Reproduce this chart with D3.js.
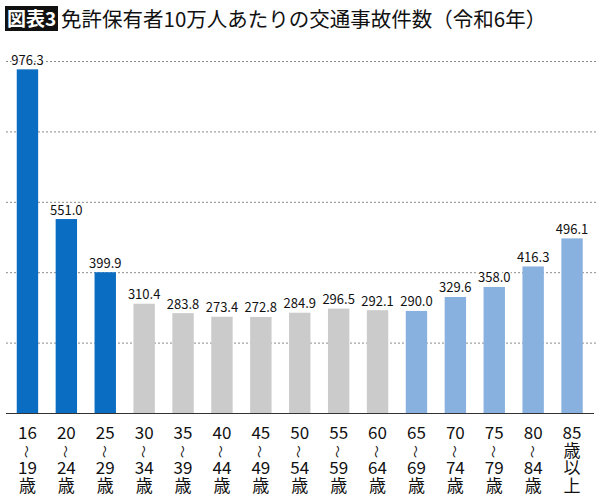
<!DOCTYPE html>
<html>
<head>
<meta charset="utf-8">
<script src="https://cdn.jsdelivr.net/npm/d3@7"></script>
<style>
  body { margin: 0; background: #fff; }
  svg { display: block; font-family: "Noto Sans CJK JP", "Noto Sans", sans-serif; }
</style>
</head>
<body>
<div id="chart"></div>
<script>
const ageFrom = ["16", "20", "25", "30", "35", "40", "45", "50", "55", "60", "65", "70", "75", "80", "85"];
const ageTo = ["19", "24", "29", "34", "39", "44", "49", "54", "59", "64", "69", "74", "79", "84", ""];
const accidents = [976.3, 551.0, 399.9, 310.4, 283.8, 273.4, 272.8, 284.9, 296.5, 292.1, 290.0, 329.6, 358.0, 416.3, 496.1];
const groups = ["young", "young", "young", "mid", "mid", "mid", "mid", "mid", "mid", "mid", "old", "old", "old", "old", "old"];
const yTicks = [200, 400, 600, 800, 1000];

const width = 600, height = 501;
const margin = { top: 61, right: 8.5, bottom: 88, left: 8 };

const svg = d3.select("#chart").append("svg")
    .attr("width", width)
    .attr("height", height);

// title
svg.append("rect").attr("x", 5).attr("y", 6).attr("width", 53).attr("height", 25).attr("fill", "#111");
svg.append("text").attr("x", 31.5).attr("y", 26).attr("text-anchor", "middle")
    .attr("fill", "#fff").attr("font-size", 19).attr("font-weight", "bold").text("図表3");
svg.append("text").attr("x", 61).attr("y", 27)
    .attr("fill", "#111").attr("font-size", 20.5).text("免許保有者10万人あたりの交通事故件数（令和6年）");

const x = d3.scaleBand()
    .domain(d3.range(accidents.length))
    .range([margin.left, width - margin.right])
    .paddingInner(0.45)
    .paddingOuter(0.225);

const y = d3.scaleLinear()
    .domain([0, 1000])
    .range([height - margin.bottom, margin.top]);

const color = { young: "#0a6dc2", mid: "#cbcbcb", old: "#89b1e0" };

// grid
svg.selectAll(".grid")
    .data(yTicks)
    .enter()
    .append("line")
    .attr("x1", 6).attr("x2", 596)
    .attr("y1", d => y(d) + 0.5).attr("y2", d => y(d) + 0.5)
    .attr("stroke", "#8a8a8a")
    .attr("stroke-width", 1)
    .attr("stroke-dasharray", "2,2");

// bars
svg.selectAll(".bar")
    .data(accidents)
    .enter()
    .append("rect")
    .attr("x", (d, i) => x(i))
    .attr("y", d => y(d))
    .attr("width", x.bandwidth())
    .attr("height", d => y(0) - y(d))
    .attr("fill", (d, i) => color[groups[i]]);

// baseline
svg.append("line")
    .attr("x1", 6).attr("x2", 594)
    .attr("y1", y(0) + 0.5).attr("y2", y(0) + 0.5)
    .attr("stroke", "#333").attr("stroke-width", 1.2);

// value labels
svg.selectAll(".val")
    .data(accidents)
    .enter()
    .append("text")
    .attr("x", (d, i) => x(i) + x.bandwidth() / 2)
    .attr("y", d => y(d) - 4.5)
    .attr("text-anchor", "middle")
    .attr("font-size", 13)
    .attr("fill", "#111")
    .attr("stroke", "#fff").attr("stroke-width", 3).attr("paint-order", "stroke")
    .text(d => d.toFixed(1));

// category labels (vertical)
const cat = svg.selectAll(".cat")
    .data(accidents)
    .enter()
    .append("g")
    .attr("transform", (d, i) => `translate(${x(i) + x.bandwidth() / 2},0)`)
    .attr("font-size", 17)
    .attr("fill", "#111")
    .attr("text-anchor", "middle");

const top0 = 439, step = 17.7;
cat.each(function (d, i) {
    const g = d3.select(this);
    g.append("text").attr("y", top0).text(ageFrom[i]);
    if (ageTo[i]) {
        g.append("text")
            .attr("transform", `translate(0,${top0 + step - 5}) rotate(90)`)
            .attr("dominant-baseline", "central")
            .attr("font-size", 13)
            .text("〜");
        g.append("text").attr("y", top0 + step * 2).text(ageTo[i]);
        g.append("text").attr("y", top0 + step * 3).text("歳");
    } else {
        g.append("text").attr("y", top0 + step).text("歳");
        g.append("text").attr("y", top0 + step * 2).text("以");
        g.append("text").attr("y", top0 + step * 3).text("上");
    }
});
</script>
</body>
</html>
